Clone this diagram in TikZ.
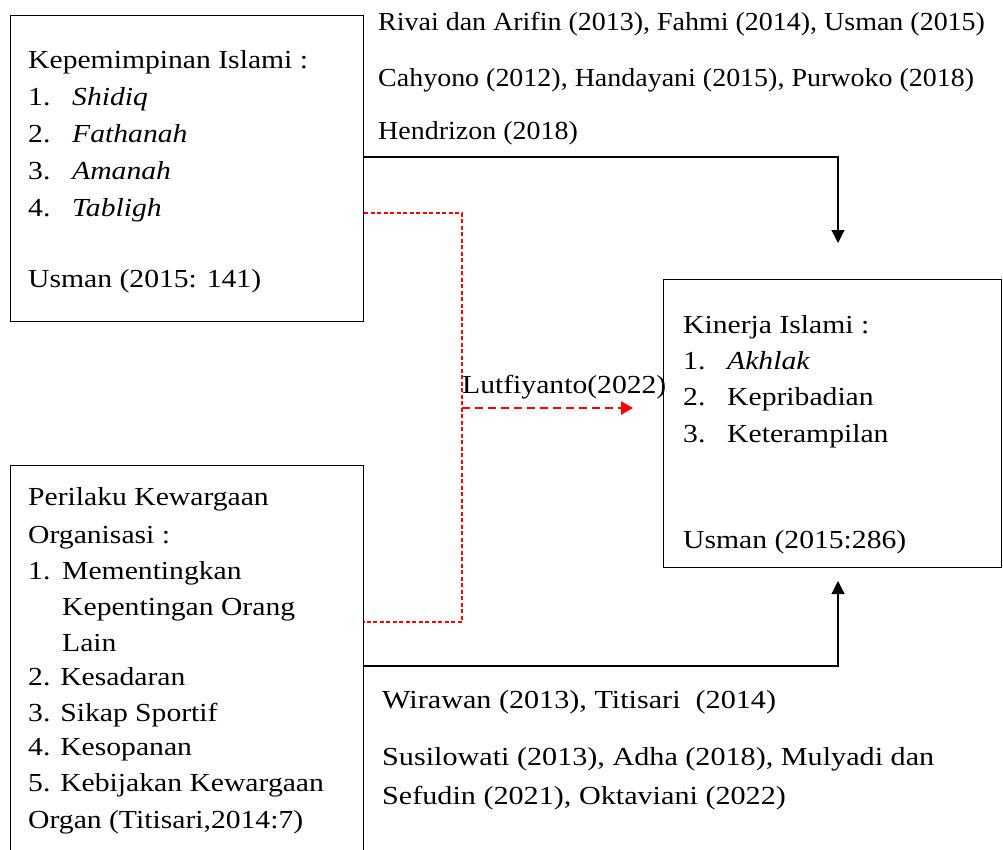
\documentclass[tikz,border=0pt]{standalone}
\usepackage{fontspec}
\setmainfont{Liberation Serif}[FakeStretch=1.14]
\newfontfamily\topreffont{Liberation Serif}[FakeStretch=1.076]
\newfontfamily\botreffont{Liberation Serif}[FakeStretch=1.16]
\usetikzlibrary{arrows.meta,calc}
\begin{document}
\begin{tikzpicture}[x=1pt,y=-1pt,
  font=\fontsize{26}{30}\selectfont,
  box/.style={draw=black,line width=1.2pt,inner sep=0pt,anchor=north west},
  txt/.style={anchor=base west,inner sep=0pt},
  topref/.style={txt,font=\fontsize{26}{30}\topreffont},
  botref/.style={txt,font=\fontsize{26}{30}\botreffont},
  conn/.style={draw=black,line width=1.3pt,-{Triangle[length=13pt,width=13pt]}},
  reddot/.style={draw=red,line width=1.4pt,dash pattern=on 4pt off 2.5pt},
  redarr/.style={draw=red,line width=2.6pt,dash pattern=on 8pt off 5pt,-{Triangle[length=12pt,width=13pt]}}]
\useasboundingbox (0,0) rectangle (1003,849);
\clip (0,0) rectangle (1003,849);
% boxes
\node[box,minimum width=353pt,minimum height=306pt] (b1) at (10,15) {};
\node[box,minimum width=338pt,minimum height=288pt] (b3) at (663,279) {};
\node[box,minimum width=353pt,minimum height=420pt] (b2) at (10,465) {};
% box 1 text
\node[txt] (t11) at (28,68) {Kepemimpinan Islami :};
\node[txt] (n11) at (28,105) {1.};
\node[txt] (t12) at (72,105) {\itshape Shidiq};
\node[txt] (n12) at (28,142) {2.};
\node[txt] (t13) at (72,142) {\itshape Fathanah};
\node[txt] (n13) at (28,179) {3.};
\node[txt] (t14) at (72,179) {\itshape Amanah};
\node[txt] (n14) at (28,216) {4.};
\node[txt] (t15) at (72,216) {\itshape Tabligh};
\node[txt] (t16) at (28,287) {Usman (2015: 141)};
% box 3 text
\node[txt] (t31) at (683,333) {Kinerja Islami :};
\node[txt] (n31) at (683,369) {1.};
\node[txt] (t32) at (727,369) {\itshape Akhlak};
\node[txt] (n32) at (683,405) {2.};
\node[txt] (t33) at (727,405) {Kepribadian};
\node[txt] (n33) at (683,442) {3.};
\node[txt] (t34) at (727,442) {Keterampilan};
\node[txt] (t35) at (683,548) {Usman (2015:286)};
% box 2 text
\node[txt] (t21) at (28,505) {Perilaku Kewargaan};
\node[txt] (t22) at (28,543) {Organisasi :};
\node[txt] (n21) at (28,579) {1.};
\node[txt] (t23) at (62,579) {Mementingkan};
\node[txt] (t24) at (62,615) {Kepentingan Orang};
\node[txt] (t25) at (62,651) {Lain};
\node[txt] (t26) at (28,685) {2. Kesadaran};
\node[txt] (t27) at (28,721) {3. Sikap Sportif};
\node[txt] (t28) at (28,755) {4. Kesopanan};
\node[txt] (t29) at (28,791) {5. Kebijakan Kewargaan};
\node[txt] (t2a) at (28,828) {Organ (Titisari,2014:7)};
% reference texts
\node[topref] (r1) at (378,30) {Rivai dan Arifin (2013), Fahmi (2014), Usman (2015)};
\node[topref] (r2) at (378,86) {Cahyono (2012), Handayani (2015), Purwoko (2018)};
\node[topref] (r3) at (378,139) {Hendrizon (2018)};
\node[botref] (r4) at (382,708) {Wirawan (2013), Titisari \ (2014)};
\node[botref] (r5) at (382,765) {Susilowati (2013), Adha (2018), Mulyadi dan};
\node[botref] (r6) at (382,804) {Sefudin (2021), Oktaviani (2022)};
\node[txt] (lt) at (462,393) {Lutfiyanto(2022)};
% connector coordinates
\coordinate (tipA) at (838,243);
\coordinate (tipB) at (838,581);
\coordinate (rA) at (462,408);
\coordinate (rB) at (633,408);
% black connectors
\draw[conn] (b1.east |- 0,157) -| (tipA);
\draw[conn] (b2.east |- 0,666) -| (tipB);
% red dotted connector
\draw[reddot] (b1.east |- 0,213) -| (462,622) -- (b2.east |- 0,622);
\draw[redarr] (rA) -- (rB);
\end{tikzpicture}
\end{document}
